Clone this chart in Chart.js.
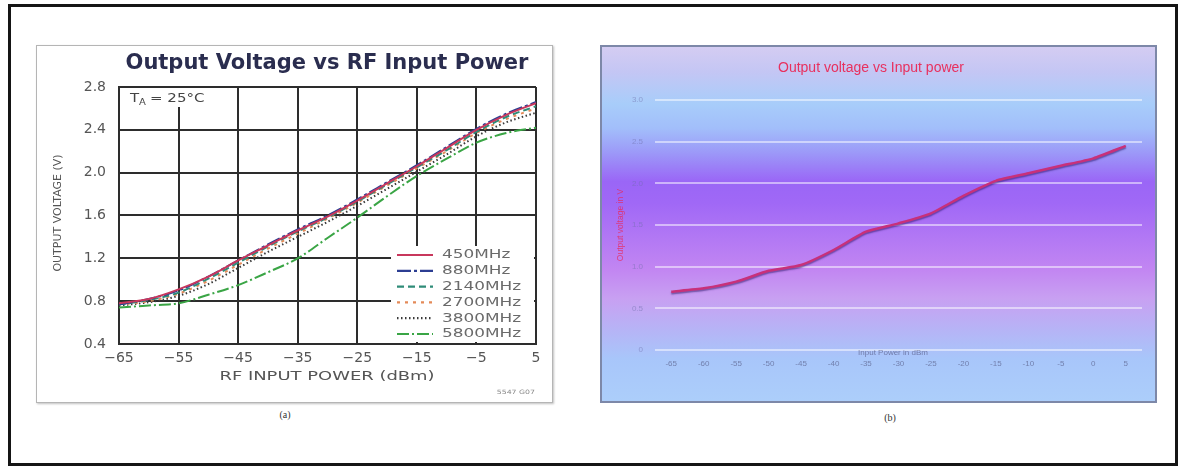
<!DOCTYPE html>
<html>
<head>
<meta charset="utf-8">
<script src="https://cdn.jsdelivr.net/npm/chart.js@4.4.1/dist/chart.umd.min.js"></script>
<style>
  html, body { margin: 0; padding: 0; background: #fff; }
  body { width: 1183px; height: 466px; position: relative; overflow: hidden; font-family: 'DejaVu Sans', sans-serif; }
  #frame { position: absolute; left: 8px; top: 4px; width: 1170px; height: 462px; box-sizing: border-box; border: 3px solid #151515; }
  #panelA { position: absolute; left: 36px; top: 45px; width: 517px; height: 358px; box-sizing: border-box; border: 1px solid #b5b5b5; background: #fff; box-shadow: 1px 1px 2px rgba(0,0,0,0.25); }
  #panelB { position: absolute; left: 600px; top: 45px; width: 557px; height: 358px; box-sizing: border-box; border: 2px solid #7d88a8;
    background: linear-gradient(to bottom, #d4ccf2 0%, #c4c6f4 7%, #a8cdfa 16%, #a2befa 23%, #9c98f8 30%, #9a66f6 38%, #a068f6 44%, #b278f4 54%, #c286f2 63%, #c8a0f2 71%, #b6b4f6 80%, #a8c6fa 88%, #accefa 100%); }
  canvas { position: absolute; left: 0; top: 0; }
  .cap { position: absolute; font-size: 10px; color: #333; transform: translate(-50%, -50%); font-family: 'Liberation Serif', serif; }
</style>
</head>
<body>
<div id="frame"></div>
<div id="panelA"><canvas id="chartA" width="515" height="356"></canvas></div>
<div id="panelB"><canvas id="chartB" width="553" height="354"></canvas></div>
<div class="cap" style="left:285px; top:414px;">(a)</div>
<div class="cap" style="left:890px; top:417px;">(b)</div>
<script>
// (a) datasheet curves
const powerDbm = [-65, -60, -55, -50, -45, -40, -35, -30, -25, -20, -15, -10, -5, 0, 5];
const v450MHz  = [0.78, 0.82, 0.91, 1.03, 1.18, 1.32, 1.46, 1.59, 1.74, 1.90, 2.06, 2.23, 2.40, 2.54, 2.65];
const v880MHz  = [0.77, 0.82, 0.90, 1.03, 1.18, 1.33, 1.47, 1.60, 1.75, 1.91, 2.07, 2.24, 2.41, 2.55, 2.66];
const v2140MHz = [0.77, 0.81, 0.88, 1.01, 1.16, 1.31, 1.45, 1.58, 1.73, 1.89, 2.05, 2.21, 2.38, 2.52, 2.62];
const v2700MHz = [0.77, 0.80, 0.87, 0.99, 1.14, 1.29, 1.43, 1.57, 1.72, 1.88, 2.04, 2.20, 2.37, 2.50, 2.60];
const v3800MHz = [0.76, 0.79, 0.85, 0.96, 1.11, 1.26, 1.40, 1.54, 1.69, 1.85, 2.01, 2.17, 2.34, 2.47, 2.56];
const v5800MHz = [0.74, 0.76, 0.78, 0.86, 0.95, 1.07, 1.20, 1.39, 1.58, 1.78, 1.97, 2.13, 2.28, 2.37, 2.42];
const legendNames = ['450MHz', '880MHz', '2140MHz', '2700MHz', '3800MHz', '5800MHz'];

// (b) measured curve
const inputPower = ['-65', '-60', '-55', '-50', '-45', '-40', '-35', '-30', '-25', '-20', '-15', '-10', '-5', '0', '5'];
const outputVoltage = [0.70, 0.74, 0.82, 0.95, 1.02, 1.20, 1.42, 1.52, 1.64, 1.85, 2.03, 2.12, 2.21, 2.30, 2.45];

const toXY = arr => arr.map((v, i) => ({ x: powerDbm[i], y: v }));

function stretchText(ctx, text, x, y, sx, align) {
  ctx.save();
  ctx.translate(x, y);
  ctx.scale(sx, 1);
  ctx.textAlign = align || 'left';
  ctx.fillText(text, 0, 0);
  ctx.restore();
}

const gridDark = '#2d2d2d';

const datasheetDecor = {
  id: 'datasheetDecor',
  beforeDatasetsDraw(chart) {
    const ctx = chart.ctx;
    ctx.save();
    ctx.fillStyle = '#fff';
    ctx.fillRect(83, 42, 100, 19);     // T_A note
    ctx.fillRect(354, 200, 143, 96);   // legend box
    ctx.restore();
  },
  afterDatasetsDraw(chart) {
    const ctx = chart.ctx;
    ctx.save();
    // legend
    chart.data.datasets.forEach((ds, i) => {
      const y = 209 + i * 15.8;
      ctx.strokeStyle = ds.borderColor;
      ctx.lineWidth = 2.2;
      ctx.setLineDash(ds.borderDash || []);
      ctx.beginPath();
      ctx.moveTo(360, y);
      ctx.lineTo(396, y);
      ctx.stroke();
      ctx.setLineDash([]);
      ctx.fillStyle = '#6a6a6a';
      ctx.font = '13px "DejaVu Sans"';
      ctx.textBaseline = 'middle';
      stretchText(ctx, legendNames[i], 405, y, 1.3);
    });
    // T_A = 25°C
    ctx.fillStyle = '#444';
    ctx.textBaseline = 'alphabetic';
    ctx.font = '12px "DejaVu Sans"';
    stretchText(ctx, 'T', 93, 56, 1.25);
    ctx.font = '8px "DejaVu Sans"';
    stretchText(ctx, 'A', 102, 59, 1.25);
    ctx.font = '12px "DejaVu Sans"';
    stretchText(ctx, '= 25°C', 113, 56, 1.25);
    ctx.restore();
  },
  afterDraw(chart) {
    const ctx = chart.ctx;
    ctx.save();
    ctx.textBaseline = 'middle';
    ctx.fillStyle = '#2a2d4f';
    ctx.font = 'bold 21px "DejaVu Sans"';
    stretchText(ctx, 'Output Voltage vs RF Input Power', 290, 18, 1.0, 'center');
    ctx.fillStyle = '#555';
    ctx.font = '13px "DejaVu Sans"';
    stretchText(ctx, 'RF INPUT POWER (dBm)', 290, 331, 1.38, 'center');
    ctx.font = '6px "DejaVu Sans"';
    ctx.fillStyle = '#888';
    stretchText(ctx, '5547 G07', 498, 346, 1.3, 'right');
    ctx.translate(21, 167);
    ctx.rotate(-Math.PI / 2);
    ctx.fillStyle = '#555';
    ctx.font = '11px "DejaVu Sans"';
    ctx.textAlign = 'center';
    ctx.fillText('OUTPUT VOLTAGE (V)', 0, 0);
    ctx.restore();
  }
};

new Chart(document.getElementById('chartA'), {
  type: 'line',
  data: {
    datasets: [
      { label: '450MHz', data: toXY(v450MHz), borderColor: '#c8375c' },
      { label: '880MHz', data: toXY(v880MHz), borderColor: '#2c3e92', borderDash: [14, 3, 3, 3] },
      { label: '2140MHz', data: toXY(v2140MHz), borderColor: '#2f8c78', borderDash: [7, 4] },
      { label: '2700MHz', data: toXY(v2700MHz), borderColor: '#e48a58', borderDash: [3, 5] },
      { label: '3800MHz', data: toXY(v3800MHz), borderColor: '#3a3a3a', borderDash: [1.5, 2.5] },
      { label: '5800MHz', data: toXY(v5800MHz), borderColor: '#3aa545', borderDash: [12, 3, 2, 3] }
    ].map(ds => Object.assign({ borderWidth: 2, pointRadius: 0, cubicInterpolationMode: 'monotone', fill: false }, ds))
  },
  options: {
    responsive: false,
    animation: false,
    layout: { padding: { left: 0, right: 16, top: 41, bottom: 0 } },
    plugins: { legend: { display: false }, tooltip: { enabled: false } },
    scales: {
      x: {
        type: 'linear', min: -65, max: 5,
        afterFit: s => { s.height = 58; },
        ticks: { stepSize: 10, padding: 6, color: '#555', font: { family: 'DejaVu Sans', size: 14 },
          callback: v => (v < 0 ? '\u2212' : '') + Math.abs(v) },
        grid: { color: gridDark, lineWidth: 2, drawTicks: false },
        border: { color: gridDark, width: 2 }
      },
      y: {
        min: 0.4, max: 2.8,
        afterFit: s => { s.width = 82; },
        ticks: { stepSize: 0.4, padding: 13, color: '#555', font: { family: 'DejaVu Sans', size: 14 },
          callback: v => Number(v).toFixed(1) },
        grid: { color: gridDark, lineWidth: 2, drawTicks: false },
        border: { color: gridDark, width: 2 }
      }
    }
  },
  plugins: [datasheetDecor]
});

const excelDecor = {
  id: 'excelDecor',
  beforeDatasetsDraw(chart) {
    const ctx = chart.ctx;
    ctx.save();
    ctx.shadowColor = 'rgba(40, 20, 100, 0.55)';
    ctx.shadowOffsetY = 1.5;
    ctx.shadowBlur = 1.5;
  },
  afterDatasetsDraw(chart) {
    chart.ctx.restore();
  },
  afterDraw(chart) {
    const ctx = chart.ctx;
    ctx.save();
    ctx.textBaseline = 'middle';
    ctx.textAlign = 'center';
    ctx.fillStyle = '#e8305e';
    ctx.font = '14px "Liberation Sans"';
    ctx.fillText('Output voltage vs Input power', 269, 21);
    ctx.fillStyle = 'rgba(60, 60, 100, 0.55)';
    ctx.font = '8px "Liberation Sans"';
    ctx.fillText('Input Power in dBm', 291, 306);
    ctx.translate(19, 178);
    ctx.rotate(-Math.PI / 2);
    ctx.fillStyle = 'rgba(232, 40, 90, 0.8)';
    ctx.font = '8.5px "Liberation Sans"';
    ctx.fillText('Output voltage in V', 0, 0);
    ctx.restore();
  }
};

new Chart(document.getElementById('chartB'), {
  type: 'line',
  data: {
    labels: inputPower,
    datasets: [{
      label: 'Output voltage',
      data: outputVoltage,
      borderColor: '#c8307a',
      borderWidth: 2.5,
      pointRadius: 0,
      tension: 0.2,
      fill: false
    }]
  },
  options: {
    responsive: false,
    animation: false,
    layout: { padding: { left: 0, right: 13, top: 53, bottom: 0 } },
    plugins: { legend: { display: false }, tooltip: { enabled: false } },
    scales: {
      x: {
        offset: true,
        afterFit: s => { s.height = 51; },
        ticks: { padding: 9, color: 'rgba(70, 70, 110, 0.55)', font: { family: 'Liberation Sans', size: 8 } },
        grid: { display: false, drawTicks: false },
        border: { display: false }
      },
      y: {
        min: 0, max: 3,
        afterFit: s => { s.width = 53; },
        ticks: { stepSize: 0.5, padding: 12, color: 'rgba(110, 110, 170, 0.5)', font: { family: 'Liberation Sans', size: 8 } },
        grid: { color: 'rgba(255, 255, 255, 0.5)', lineWidth: 2, drawTicks: false },
        border: { display: false }
      }
    }
  },
  plugins: [excelDecor]
});
</script>
</body>
</html>
